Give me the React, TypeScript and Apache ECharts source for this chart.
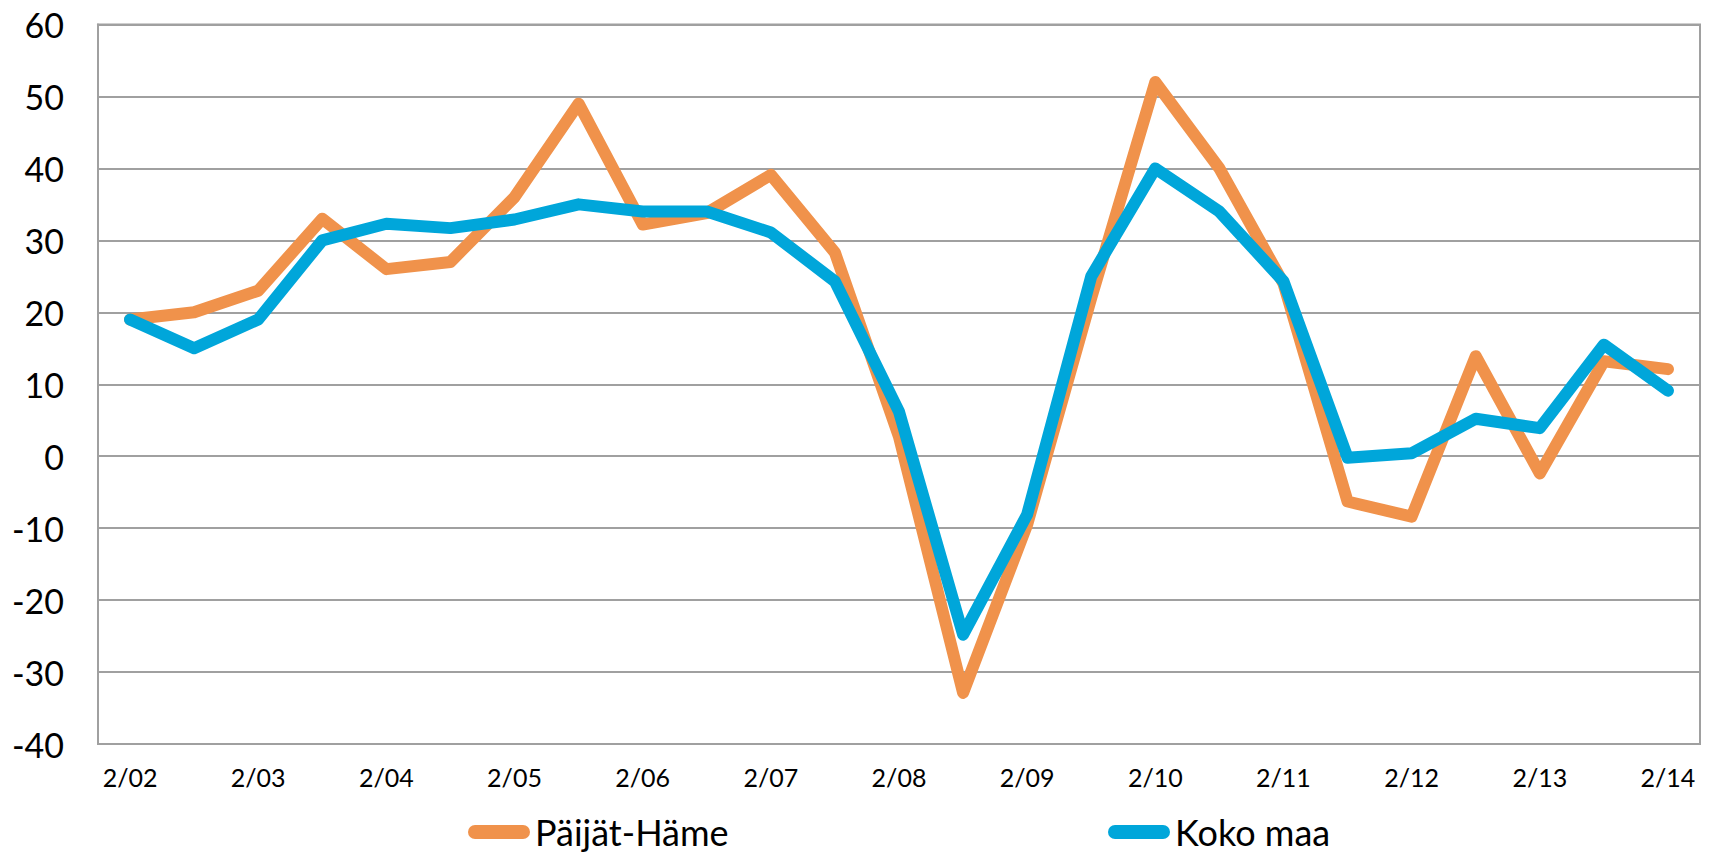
import React, { useEffect, useRef } from "react";
import * as echarts from "echarts";

const categories = [
  "2/02", "8/02", "2/03", "8/03", "2/04", "8/04", "2/05", "8/05", "2/06", "8/06",
  "2/07", "8/07", "2/08", "8/08", "2/09", "8/09", "2/10", "8/10", "2/11", "8/11",
  "2/12", "8/12", "2/13", "8/13", "2/14",
];

const paijatHame = [
  19, 20, 23, 33, 26, 27, 36, 49, 32.2, 33.8, 39.1, 28.3, 2.7, -32.9, -9.5, 22,
  52, 40, 24, -6.3, -8.4, 13.9, -2.4, 13.2, 12.1,
];

const kokoMaa = [
  19, 15, 19, 30, 32.3, 31.7, 32.9, 35, 34, 34, 31.1, 24.3, 6.2, -24.8, -8.1, 25,
  40, 34, 24.3, -0.2, 0.4, 5.2, 3.9, 15.5, 9.1,
];

const yMin = -40;
const yMax = 60;
const yStep = 10;

const ORANGE = "#F0924B";
const BLUE = "#00A6DA";
const FONT = "Lato, 'Open Sans', sans-serif";
const ICON = "path://M7,0 L55,0 A7,7 0 0 1 55,14 L7,14 A7,7 0 0 1 7,0 Z";

export default function App() {
  const ref = useRef<HTMLDivElement>(null);

  useEffect(() => {
    if (!ref.current) return;
    const chart = echarts.init(ref.current, undefined, { renderer: "svg" });
    const legendCommon = {
      orient: "horizontal",
      top: 814,
      padding: 0,
      itemWidth: 62,
      itemHeight: 14,
      icon: ICON,
      selectedMode: false,
      textStyle: { fontFamily: FONT, fontSize: 36, color: "#000", lineHeight: 36 },
    };
    chart.setOption({
      animation: false,
      backgroundColor: "#fff",
      grid: {
        left: 98,
        right: 12,
        top: 24.5,
        bottom: 111,
        show: true,
        borderColor: "#a0a0a0",
        borderWidth: 2,
      },
      legend: [
        { ...legendCommon, left: 468, data: ["Päijät-Häme"] },
        { ...legendCommon, left: 1108, data: ["Koko maa"] },
      ],
      xAxis: {
        type: "category",
        data: categories,
        boundaryGap: true,
        axisLine: { show: true, lineStyle: { color: "#a0a0a0", width: 2 } },
        axisTick: { show: false },
        axisLabel: {
          interval: 1,
          margin: 20,
          color: "#000",
          fontFamily: FONT,
          fontSize: 25,
        },
        splitLine: { show: false },
      },
      yAxis: {
        type: "value",
        min: yMin,
        max: yMax,
        interval: yStep,
        axisLine: { show: true, lineStyle: { color: "#a0a0a0", width: 2 } },
        axisTick: { show: false },
        axisLabel: {
          margin: 34,
          color: "#000",
          fontFamily: FONT,
          fontSize: 34,
        },
        splitLine: { show: true, lineStyle: { color: "#a0a0a0", width: 2 } },
      },
      series: [
        {
          name: "Päijät-Häme",
          type: "line",
          data: paijatHame,
          symbol: "none",
          color: ORANGE,
          lineStyle: { color: ORANGE, width: 12, cap: "round", join: "round" },
        },
        {
          name: "Koko maa",
          type: "line",
          data: kokoMaa,
          symbol: "none",
          color: BLUE,
          lineStyle: { color: BLUE, width: 12, cap: "round", join: "round" },
        },
      ],
    });
    return () => chart.dispose();
  }, []);

  return (
    <div
      ref={ref}
      style={{ position: "absolute", left: 0, top: 0, width: 1712, height: 855 }}
    />
  );
}
